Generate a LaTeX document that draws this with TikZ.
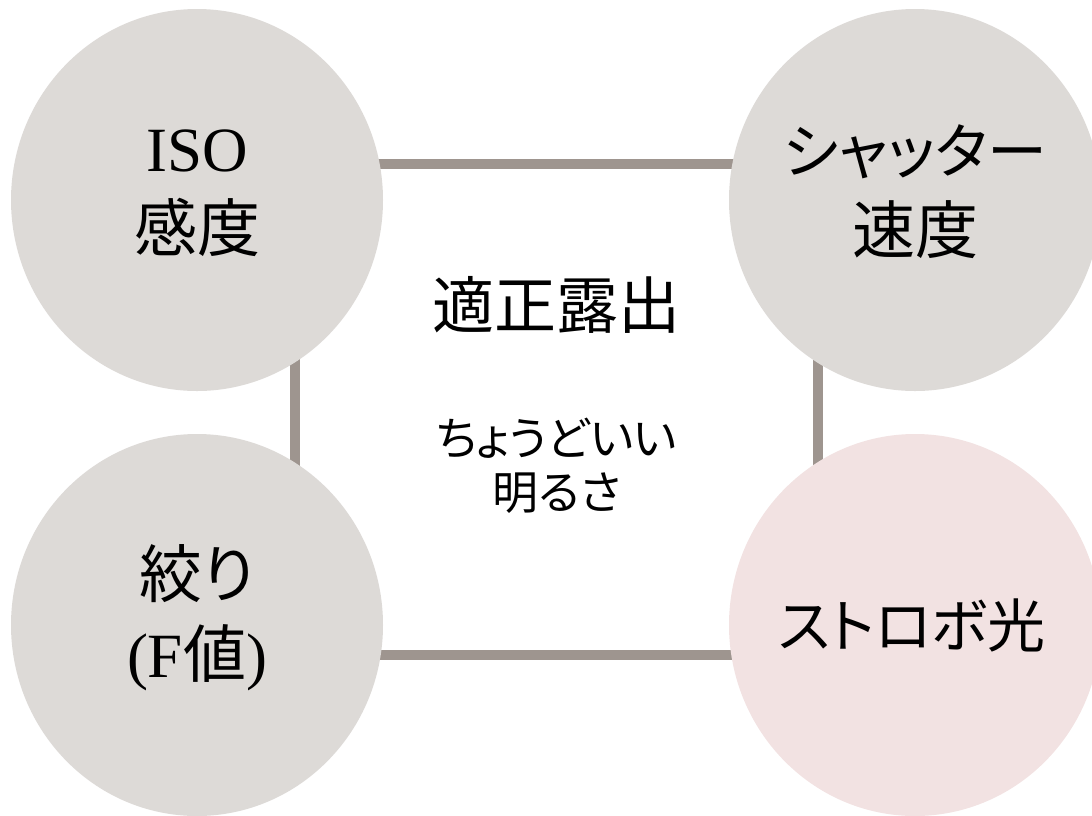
\documentclass[tikz,border=0pt]{standalone}
\usepackage{fontspec}
\setmainfont{Liberation Serif}
\newfontfamily\jp{Noto Sans CJK JP}[RawFeature=+palt]
\usetikzlibrary{shapes.geometric}
\definecolor{circgray}{HTML}{DDDAD7}
\definecolor{circpink}{HTML}{F2E2E2}
\definecolor{framegray}{HTML}{9E958F}
\begin{document}
\begin{tikzpicture}[x=1pt,y=-1pt,
  bubble/.style={ellipse, fill=circgray, minimum width=372pt, minimum height=382pt, inner sep=0pt},
  txt/.style={align=center, inner sep=0pt, font=\fontsize{63}{80}\selectfont},
  frame/.style={draw=framegray, line width=10pt, rectangle, inner sep=0pt},
  title/.style={font=\jp\fontsize{62}{76}\selectfont},
  sub/.style={align=center, font=\jp\fontsize{46}{54}\selectfont}]
\useasboundingbox (0,0) rectangle (1092,815);
\node[frame, minimum width=523pt, minimum height=491pt] (box) at (556.5,409) {};
\node[title] (main) at (556.5,305) {適正露出};
\node[sub] (desc) at (556.5,466) {ちょうどいい\\明るさ};
\node[bubble] (iso) at (197,200) {};
\node[bubble] (shutter) at (915,200) {};
\node[bubble] (fnum) at (197,625) {};
\node[bubble, fill=circpink] (strobe) at (915,625) {};
\node[txt, yshift=7pt] (isot) at (iso.center) {ISO\\{\jp 感度}};
\node[txt, yshift=8pt] (shuttert) at (shutter.center) {{\jp\fontsize{60}{80}\selectfont シャッター}\\{\jp 速度}};
\node[txt, xshift=-3pt, font=\fontsize{58}{70}\selectfont] (strobet) at (strobe.center) {{\jp ストロボ光}};
\node[txt, yshift=7pt] (fnumt) at (fnum.center) {{\jp 絞り}\\(F{\jp 値})};
\end{tikzpicture}
\end{document}
